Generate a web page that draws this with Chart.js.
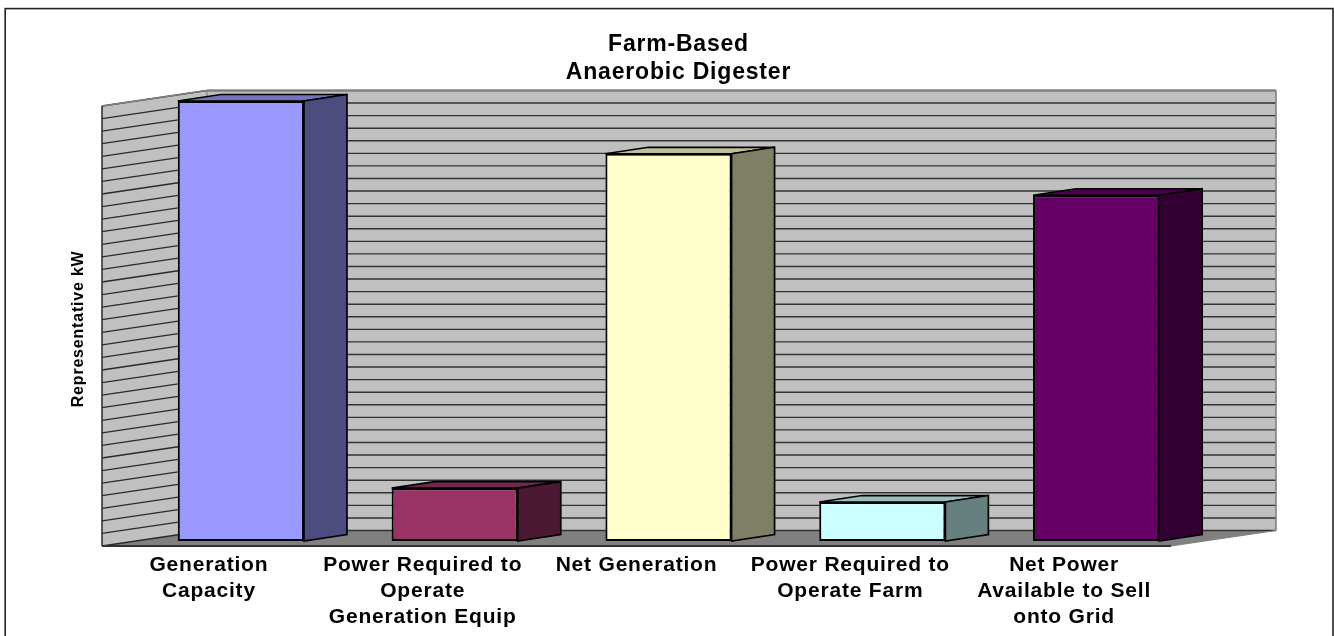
<!DOCTYPE html>
<html>
<head>
<meta charset="utf-8">
<title>Farm-Based Anaerobic Digester</title>
<script src="https://cdn.jsdelivr.net/npm/chart.js@4/dist/chart.umd.min.js"></script>
<style>
html, body { margin: 0; padding: 0; background: #fff; overflow: hidden; }
canvas { display: block; }
</style>
</head>
<body>
<canvas id="chart" width="1334" height="636"></canvas>
<script>
const categories = [
    ['Generation', 'Capacity'],
    ['Power Required to', 'Operate', 'Generation Equip'],
    'Net Generation',
    ['Power Required to', 'Operate Farm'],
    ['Net Power', 'Available to Sell', 'onto Grid']
];
const values = [1750, 210, 1540, 155, 1375];
const yMax = 1750;
const yStep = 50;

const faceColors = ['#9999FF', '#993366', '#FFFFCC', '#CCFFFF', '#660066'];
const topColors = ['#7373BF', '#732650', '#BFBF99', '#99BFBF', '#4D004D'];
const sideColors = ['#4C4C7F', '#4C1933', '#7F7F66', '#667F7F', '#330033'];

const fontFamily = '"Liberation Sans", Arial, sans-serif';

// 3d look: the bars stand a bit behind the front edge of the floor
const front = { dx: -32, dy: 5 };
const back = { dx: 73, dy: -10.5 };
const barDepth = { dx: 43, dy: -6.5 };

const poly = (ctx, points, fill, stroke, lineWidth) => {
    ctx.beginPath();
    points.forEach(([x, y], i) => (i ? ctx.lineTo(x, y) : ctx.moveTo(x, y)));
    ctx.closePath();
    if (fill) {
        ctx.fillStyle = fill;
        ctx.fill();
    }
    if (stroke) {
        ctx.strokeStyle = stroke;
        ctx.lineWidth = lineWidth;
        ctx.stroke();
    }
};

const segment = (ctx, x1, y1, x2, y2, color, lineWidth) => {
    ctx.beginPath();
    ctx.moveTo(x1, y1);
    ctx.lineTo(x2, y2);
    ctx.strokeStyle = color;
    ctx.lineWidth = lineWidth;
    ctx.stroke();
};

const framePlugin = {
    id: 'frame',
    afterLayout(chart) {
        // the title sits right of the centre of the plot box
        chart.titleBlock.left += 77;
        chart.titleBlock.right += 77;
    },
    beforeDraw(chart) {
        const ctx = chart.ctx;
        ctx.save();
        ctx.fillStyle = '#fff';
        ctx.fillRect(0, 0, chart.width, chart.height);
        ctx.strokeStyle = '#222';
        ctx.lineWidth = 1.6;
        ctx.strokeRect(5.2, 8.6, 1327.8, 640);
        ctx.restore();
        // the original text is set a little wider than Liberation Sans
        ctx.letterSpacing = '0.8px';
    }
};

const box3dPlugin = {
    id: 'box3d',
    beforeDatasetsDraw(chart) {
        const ctx = chart.ctx;
        const { left, right, top, bottom } = chart.chartArea;
        const yScale = chart.scales.y;
        const fl = left + front.dx;
        const fr = right + front.dx;
        const ft = top + front.dy;
        const fb = bottom + front.dy;
        const bl = left + back.dx;
        const br = right + back.dx;
        const bt = top + back.dy;
        const bb = bottom + back.dy;

        ctx.save();
        poly(ctx, [[bl, bt], [br, bt], [br, bb], [bl, bb]], '#C0C0C0');
        poly(ctx, [[fl, ft], [bl, bt], [bl, bb], [fl, fb]], '#C0C0C0');
        poly(ctx, [[fl, fb], [bl, bb], [br, bb], [fr, fb]], '#808080');

        // gridlines come from the axis ticks, over both walls
        yScale.ticks.forEach((tick) => {
            const py = yScale.getPixelForValue(tick.value);
            segment(ctx, fl, py + front.dy, bl, py + back.dy, '#2a2a2a', 1.3);
            segment(ctx, bl, py + back.dy, br, py + back.dy, '#333', 1.4);
        });

        segment(ctx, fl, ft, bl, bt, '#808080', 1.6);
        segment(ctx, bl, bt, br, bt, '#808080', 1.8);
        segment(ctx, br, bt, br, bb, '#808080', 1.6);
        segment(ctx, bl, bt, bl, bb, '#808080', 1.2);
        segment(ctx, br, bb, fr, fb, '#808080', 1.2);
        segment(ctx, fl, ft, fl, fb, '#333', 1.6);
        segment(ctx, fl, fb, fr, fb, '#333', 2);

        // top and side of each bar, the front face is the real bar
        chart.getDatasetMeta(0).data.forEach((bar, i) => {
            const x1 = bar.x - bar.width / 2;
            const x2 = bar.x + bar.width / 2;
            const y1 = bar.y;
            const y2 = bar.base;
            const { dx, dy } = barDepth;
            poly(ctx, [[x1, y1], [x1 + dx, y1 + dy], [x2 + dx, y1 + dy], [x2, y1]], topColors[i], '#000', 1.7);
            poly(ctx, [[x2, y1], [x2 + dx, y1 + dy], [x2 + dx, y2 + dy], [x2, y2]], sideColors[i], '#000', 1.7);
        });
        ctx.restore();
    }
};

new Chart(document.getElementById('chart').getContext('2d'), {
    type: 'bar',
    data: {
        labels: categories,
        datasets: [{
            data: values,
            backgroundColor: faceColors,
            borderColor: '#000',
            borderWidth: 2,
            borderSkipped: false,
            categoryPercentage: 0.59,
            barPercentage: 1,
            clip: false
        }]
    },
    options: {
        responsive: false,
        animation: false,
        layout: { padding: { right: 131 } },
        plugins: {
            legend: { display: false },
            tooltip: { enabled: false },
            title: {
                display: true,
                text: ['Farm-Based', 'Anaerobic Digester'],
                color: '#000',
                font: { family: fontFamily, size: 23, weight: 'bold', lineHeight: 1.217 },
                padding: { top: 31, bottom: 14 }
            }
        },
        scales: {
            x: {
                grid: { display: false, drawTicks: false },
                border: { display: false },
                afterFit: (scale) => { scale.height = 95; },
                ticks: {
                    autoSkip: false,
                    maxRotation: 0,
                    minRotation: 0,
                    padding: 11,
                    labelOffset: front.dx,
                    color: '#000',
                    font: { family: fontFamily, size: 21, weight: 'bold', lineHeight: 1.238 }
                }
            },
            y: {
                min: 0,
                max: yMax,
                grid: { display: false, drawTicks: false },
                border: { display: false },
                afterFit: (scale) => { scale.width = 134; },
                ticks: { stepSize: yStep, display: false },
                title: {
                    display: true,
                    text: 'Representative kW   ',
                    color: '#000',
                    font: { family: fontFamily, size: 16, weight: 'bold' },
                    padding: { top: 69, bottom: 0 }
                }
            }
        }
    },
    plugins: [framePlugin, box3dPlugin]
});
</script>
</body>
</html>
